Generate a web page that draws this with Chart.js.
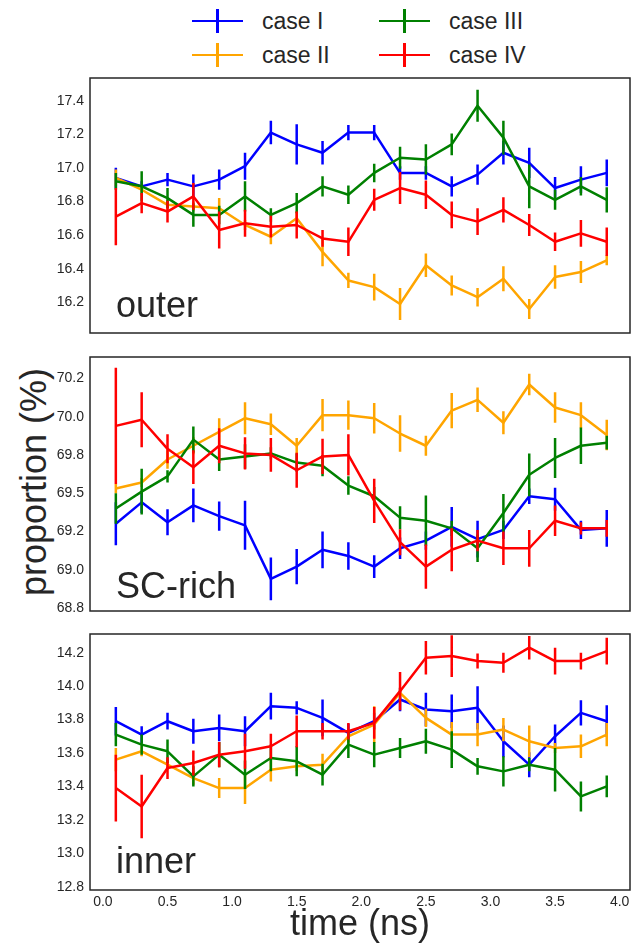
<!DOCTYPE html>
<html>
<head>
<meta charset="utf-8">
<script src="https://cdn.jsdelivr.net/npm/chart.js@4.4.1/dist/chart.umd.min.js"></script>
<style>
  body { margin: 0; background: #fff; width: 632px; height: 947px; position: relative; overflow: hidden;
         font-family: "Liberation Sans", Arial, sans-serif; color: #262626; }
  canvas { position: absolute; left: 0; }
  .leg { position: absolute; height: 30px; line-height: 30px; font-size: 23px; white-space: nowrap; }
  .mark { position: absolute; width: 51px; height: 24px; }
  .mark .h { position: absolute; left: 0; top: 10.75px; width: 51px; height: 2.5px; }
  .mark .v { position: absolute; left: 24.25px; top: 0; width: 2.5px; height: 24px; }
  #ylab { position: absolute; left: 34px; top: 482px; transform: translate(-50%, -50%) rotate(-90deg);
          font-size: 36px; white-space: nowrap; }
</style>
</head>
<body>
<div id="legend"></div>
<div id="ylab">proportion (%)</div>
<canvas id="p0" width="632" height="285" style="top:60px"></canvas>
<canvas id="p1" width="632" height="275" style="top:345px"></canvas>
<canvas id="p2" width="632" height="327" style="top:620px"></canvas>
<script>
const times = [0.1, 0.3, 0.5, 0.7, 0.9, 1.1, 1.3, 1.5, 1.7, 1.9, 2.1, 2.3, 2.5, 2.7, 2.9, 3.1, 3.3, 3.5, 3.7, 3.9];
const caseNames = ['case I', 'case II', 'case III', 'case IV'];
const caseColors = ['#0000ff', '#ffa500', '#008000', '#ff0000'];
const timeTicks = [0, 0.5, 1.0, 1.5, 2.0, 2.5, 3.0, 3.5, 4.0];

// outer
const outerI = [16.94, 16.89, 16.93, 16.89, 16.93, 17.01, 17.21, 17.14, 17.09, 17.21, 17.21, 16.97, 16.97, 16.89, 16.96, 17.09, 17.03, 16.88, 16.93, 16.97];
const outerIErr = [0.06, 0.03, 0.04, 0.07, 0.06, 0.08, 0.07, 0.12, 0.07, 0.045, 0.045, 0.04, 0.04, 0.06, 0.06, 0.07, 0.09, 0.065, 0.08, 0.08];
const outerII = [16.94, 16.87, 16.78, 16.77, 16.76, 16.66, 16.59, 16.70, 16.50, 16.33, 16.29, 16.19, 16.42, 16.30, 16.23, 16.34, 16.16, 16.35, 16.38, 16.45];
const outerIIErr = [0.05, 0.03, 0.03, 0.03, 0.06, 0.03, 0.045, 0.04, 0.085, 0.045, 0.08, 0.095, 0.07, 0.06, 0.055, 0.075, 0.06, 0.07, 0.065, 0.03];
const outerIII = [16.92, 16.89, 16.82, 16.72, 16.72, 16.83, 16.72, 16.79, 16.89, 16.84, 16.97, 17.06, 17.05, 17.14, 17.37, 17.18, 16.89, 16.81, 16.89, 16.81];
const outerIIIErr = [0.05, 0.09, 0.06, 0.07, 0.055, 0.09, 0.04, 0.06, 0.06, 0.055, 0.055, 0.065, 0.09, 0.065, 0.095, 0.1, 0.13, 0.06, 0.055, 0.075];
const outerIV = [16.71, 16.79, 16.74, 16.83, 16.63, 16.67, 16.65, 16.66, 16.58, 16.56, 16.81, 16.88, 16.84, 16.72, 16.68, 16.75, 16.66, 16.56, 16.61, 16.56];
const outerIVErr = [0.17, 0.06, 0.065, 0.08, 0.11, 0.08, 0.065, 0.08, 0.05, 0.085, 0.065, 0.095, 0.085, 0.08, 0.08, 0.075, 0.065, 0.055, 0.08, 0.085];
const outerTicks = [16.2, 16.4, 16.6, 16.8, 17.0, 17.2, 17.4];
const outerTickLabels = ['16.2', '16.4', '16.6', '16.8', '17.0', '17.2', '17.4'];

// SC-rich
const scRichI = [69.30, 69.44, 69.31, 69.42, 69.35, 69.29, 68.94, 69.02, 69.13, 69.09, 69.02, 69.14, 69.19, 69.28, 69.20, 69.26, 69.48, 69.46, 69.26, 69.27];
const scRichIErr = [0.14, 0.07, 0.085, 0.11, 0.095, 0.16, 0.14, 0.115, 0.12, 0.09, 0.075, 0.07, 0.06, 0.13, 0.12, 0.06, 0.05, 0.075, 0.06, 0.12];
const scRichII = [69.53, 69.57, 69.72, 69.81, 69.90, 69.99, 69.95, 69.81, 70.01, 70.01, 69.99, 69.89, 69.81, 70.04, 70.11, 69.96, 70.21, 70.06, 70.01, 69.88];
const scRichIIErr = [0.03, 0.03, 0.06, 0.055, 0.09, 0.105, 0.07, 0.05, 0.105, 0.095, 0.1, 0.12, 0.065, 0.115, 0.08, 0.075, 0.07, 0.1, 0.085, 0.1];
const scRichIII = [69.40, 69.51, 69.61, 69.85, 69.72, 69.74, 69.76, 69.70, 69.68, 69.55, 69.48, 69.34, 69.32, 69.27, 69.14, 69.37, 69.62, 69.73, 69.81, 69.83];
const scRichIIIErr = [0.1, 0.15, 0.04, 0.085, 0.075, 0.08, 0.04, 0.06, 0.07, 0.06, 0.06, 0.075, 0.165, 0.05, 0.09, 0.125, 0.14, 0.13, 0.12, 0.045];
const scRichIV = [69.94, 69.98, 69.79, 69.67, 69.81, 69.76, 69.75, 69.65, 69.74, 69.75, 69.45, 69.18, 69.02, 69.13, 69.19, 69.14, 69.14, 69.32, 69.27, 69.27];
const scRichIVErr = [0.38, 0.18, 0.095, 0.11, 0.115, 0.105, 0.11, 0.115, 0.115, 0.135, 0.145, 0.085, 0.145, 0.14, 0.07, 0.11, 0.12, 0.1, 0.04, 0.055];
const scRichTicks = [68.75, 69.0, 69.25, 69.5, 69.75, 70.0, 70.25];
const scRichTickLabels = ['68.8', '69.0', '69.2', '69.5', '69.8', '70.0', '70.2'];

// inner
const innerI = [13.79, 13.71, 13.79, 13.73, 13.75, 13.73, 13.88, 13.87, 13.81, 13.72, 13.79, 13.92, 13.86, 13.85, 13.87, 13.67, 13.53, 13.70, 13.84, 13.79];
const innerIErr = [0.085, 0.05, 0.05, 0.075, 0.08, 0.09, 0.08, 0.04, 0.11, 0.055, 0.05, 0.07, 0.1, 0.1, 0.13, 0.095, 0.075, 0.07, 0.075, 0.095];
const innerII = [13.56, 13.61, 13.53, 13.45, 13.39, 13.39, 13.50, 13.52, 13.53, 13.70, 13.77, 13.96, 13.81, 13.71, 13.71, 13.74, 13.67, 13.63, 13.64, 13.71];
const innerIIErr = [0.07, 0.03, 0.03, 0.04, 0.06, 0.095, 0.07, 0.03, 0.065, 0.04, 0.11, 0.03, 0.055, 0.075, 0.07, 0.07, 0.095, 0.03, 0.07, 0.07];
const innerIII = [13.71, 13.65, 13.61, 13.46, 13.59, 13.47, 13.57, 13.55, 13.47, 13.65, 13.59, 13.63, 13.67, 13.62, 13.52, 13.49, 13.53, 13.50, 13.34, 13.40];
const innerIIIErr = [0.07, 0.06, 0.07, 0.06, 0.075, 0.085, 0.08, 0.09, 0.065, 0.08, 0.075, 0.06, 0.075, 0.11, 0.05, 0.09, 0.04, 0.13, 0.09, 0.065];
const innerIV = [13.39, 13.28, 13.51, 13.54, 13.59, 13.61, 13.64, 13.73, 13.73, 13.73, 13.78, 13.97, 14.17, 14.18, 14.15, 14.14, 14.23, 14.15, 14.15, 14.21];
const innerIVErr = [0.2, 0.19, 0.065, 0.075, 0.075, 0.105, 0.075, 0.095, 0.05, 0.05, 0.095, 0.115, 0.1, 0.125, 0.045, 0.06, 0.07, 0.08, 0.05, 0.08];
const innerTicks = [12.8, 13.0, 13.2, 13.4, 13.6, 13.8, 14.0, 14.2];
const innerTickLabels = ['12.8', '13.0', '13.2', '13.4', '13.6', '13.8', '14.0', '14.2'];

const FONT = '"Liberation Sans", Arial, sans-serif';
const INK = '#262626';

// legend (html)
const legend = document.getElementById('legend');
const legPos = [[192, 21], [192, 55], [379, 21], [379, 55]];
caseNames.forEach((name, i) => {
    const [lx, ly] = legPos[i];
    const m = document.createElement('div');
    m.className = 'mark';
    m.style.left = lx + 'px';
    m.style.top = (ly - 12) + 'px';
    m.innerHTML = '<div class="h" style="background:' + caseColors[i] + '"></div><div class="v" style="background:' + caseColors[i] + '"></div>';
    legend.appendChild(m);
    const t = document.createElement('div');
    t.className = 'leg';
    t.textContent = name;
    t.style.left = (lx + 70) + 'px';
    t.style.top = (ly - 15) + 'px';
    legend.appendChild(t);
});

const errorBars = {
    id: 'errorBars',
    afterDatasetDraw(chart, args) {
        const ds = chart.data.datasets[args.index];
        const ys = chart.scales.y;
        const ctx = chart.ctx;
        const a = chart.chartArea;
        ctx.save();
        ctx.beginPath();
        ctx.rect(a.left, a.top, a.right - a.left, a.bottom - a.top);
        ctx.clip();
        ctx.strokeStyle = ds.borderColor;
        ctx.lineWidth = 2.5;
        ctx.beginPath();
        args.meta.data.forEach((pt, i) => {
            const v = ds.data[i].y, e = ds.errors[i];
            ctx.moveTo(pt.x, ys.getPixelForValue(v + e));
            ctx.lineTo(pt.x, ys.getPixelForValue(v - e));
        });
        ctx.stroke();
        ctx.restore();
    }
};

const frameAndName = {
    id: 'frameAndName',
    afterDraw(chart, args, opts) {
        const ctx = chart.ctx;
        const a = chart.chartArea;
        ctx.save();
        ctx.strokeStyle = INK;
        ctx.lineWidth = 1.5;
        ctx.strokeRect(a.left, a.top, a.right - a.left, a.bottom - a.top);
        ctx.fillStyle = INK;
        ctx.font = '36px ' + FONT;
        ctx.textBaseline = 'alphabetic';
        ctx.fillText(opts.name, a.left + 26, a.bottom - opts.lift);
        ctx.restore();
    }
};

function makePanel(id, name, lift, series, errs, yMin, yMax, ticks, tickLabels, padTop, padBottom, showX) {
    new Chart(document.getElementById(id), {
        type: 'line',
        data: {
            datasets: series.map((vals, k) => ({
                label: caseNames[k],
                data: times.map((t, i) => ({ x: t, y: vals[i] })),
                errors: errs[k],
                borderColor: caseColors[k],
                borderWidth: 2.5,
                borderJoinStyle: 'round',
                pointRadius: 0,
                tension: 0,
                fill: false,
                order: 3 - k
            }))
        },
        options: {
            responsive: false,
            animation: false,
            devicePixelRatio: 1,
            layout: { autoPadding: false, padding: { top: padTop, bottom: padBottom, left: 0, right: 2 } },
            plugins: {
                legend: { display: false },
                tooltip: { enabled: false },
                frameAndName: { name: name, lift: lift }
            },
            scales: {
                x: {
                    type: 'linear',
                    min: -0.1,
                    max: 4.08,
                    display: showX,
                    afterBuildTicks: s => { s.ticks = timeTicks.map(v => ({ value: v })); },
                    afterFit: s => {
                        s.height = showX ? 57 : 0;
                        s.paddingLeft = 0;
                        s.paddingRight = 0;
                    },
                    grid: { display: false, drawTicks: false },
                    border: { display: false },
                    ticks: { padding: 4, color: INK, autoSkip: false, maxRotation: 0,
                             font: { size: 14, family: FONT }, callback: v => v.toFixed(1) },
                    title: { display: true, text: 'time (ns)', color: INK, padding: 0,
                             font: { size: 36, family: FONT } }
                },
                y: {
                    min: yMin,
                    max: yMax,
                    afterBuildTicks: s => { s.ticks = ticks.map(v => ({ value: v })); },
                    afterFit: s => { s.width = 90; s.paddingTop = 0; s.paddingBottom = 0; },
                    grid: { display: false, drawTicks: false },
                    border: { display: false },
                    ticks: { padding: 6, color: INK, autoSkip: false,
                             font: { size: 14, family: FONT }, callback: (v, i) => tickLabels[i] }
                }
            }
        },
        plugins: [errorBars, frameAndName]
    });
}

makePanel('p0', 'outer', 16,
    [outerI, outerII, outerIII, outerIV], [outerIErr, outerIIErr, outerIIIErr, outerIVErr],
    16.017, 17.535, outerTicks, outerTickLabels, 18, 12, false);
makePanel('p1', 'SC-rich', 13,
    [scRichI, scRichII, scRichIII, scRichIV], [scRichIErr, scRichIIErr, scRichIIIErr, scRichIVErr],
    68.73, 70.39, scRichTicks, scRichTickLabels, 12, 9, false);
makePanel('p2', 'inner', 17,
    [innerI, innerII, innerIII, innerIV], [innerIErr, innerIIErr, innerIIIErr, innerIVErr],
    12.78, 14.312, innerTicks, innerTickLabels, 14, 0, true);
</script>
</body>
</html>
